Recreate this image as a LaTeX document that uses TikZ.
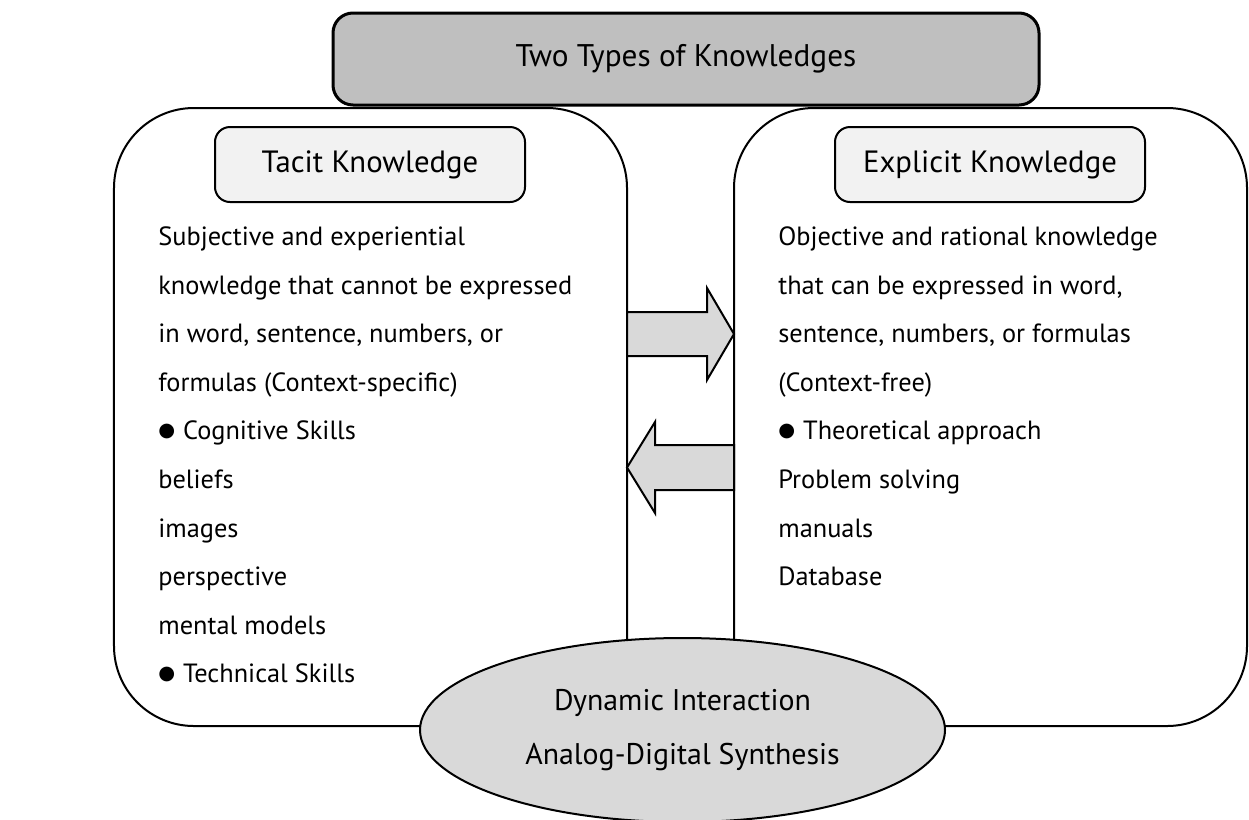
\documentclass[tikz,border=0pt]{standalone}
\usepackage{fontspec}
\setmainfont{PT Sans}
\newfontfamily\dotfont{DejaVu Sans}
\usetikzlibrary{shapes.geometric}
\definecolor{headgray}{HTML}{BFBFBF}
\definecolor{labelgray}{HTML}{F2F2F2}
\definecolor{arrowgray}{HTML}{D9D9D9}
\newcommand{\bul}{\raisebox{0.12em}{\dotfont\fontsize{11}{12}\selectfont\char"25CF}\hspace{0.3em}}
\tikzset{
  headbox/.style={draw, line width=0.6mm, rounded corners=4mm, fill=headgray,
    minimum width=141.2mm, minimum height=18.4mm, font=\fontsize{17.8}{20}\selectfont},
  sidebox/.style={draw, line width=0.4mm, rounded corners=16mm, fill=white,
    minimum width=102.6mm, minimum height=123.6mm},
  kindbox/.style={draw, line width=0.4mm, rounded corners=3mm, fill=labelgray,
    minimum width=62mm, minimum height=15mm, font=\fontsize{17.5}{20}\selectfont},
  linetext/.style={anchor=west, inner sep=0pt, text height=1.5ex, text depth=.25ex,
    font=\fontsize{15}{18}\selectfont},
  blockarrow/.style={draw, line width=0.4mm, fill=arrowgray},
  synth/.style={ellipse, draw, line width=0.4mm, fill=arrowgray, align=center,
    minimum width=105mm, minimum height=36.8mm, font=\fontsize{17}{31}\selectfont}
}
\begin{document}
\begin{tikzpicture}[x=0.2mm, y=-0.2mm]
\useasboundingbox (0,0) rectangle (1249,819);
% the two sides
\node[sidebox] (tacitbox) at (370.5,417) {};
\node[sidebox] (explicitbox) at (990.5,417) {};
% conversion arrows
\draw[blockarrow] (627,312) -- (707,312) -- (707,288) -- (734,334) -- (707,380) -- (707,356) -- (627,356) -- cycle;
\draw[blockarrow] (734,445) -- (655,445) -- (655,422) -- (627,467.5) -- (655,513) -- (655,490) -- (734,490) -- cycle;
\node[synth] (synthesis) at (682.5,730) {Dynamic Interaction\\Analog-Digital Synthesis};
\node[headbox] (title) at (686,59) {Two Types of Knowledges};
\node[kindbox] (tacit) at (370,164.5) {Tacit Knowledge};
\node[kindbox] (explicit) at (990,164.5) {Explicit Knowledge};
% tacit side
\node[linetext] (tl1) at (158,240) {Subjective and experiential};
\node[linetext] (tl2) at (158,288.6) {knowledge that cannot be expressed};
\node[linetext] (tl3) at (158,337.2) {in word, sentence, numbers, or};
\node[linetext] (tl4) at (158,385.8) {formulas (Context-specific)};
\node[linetext] (tl5) at (158,434.4) {\bul Cognitive Skills};
\node[linetext] (tl6) at (158,483) {beliefs};
\node[linetext] (tl7) at (158,531.6) {images};
\node[linetext] (tl8) at (158,580.2) {perspective};
\node[linetext] (tl9) at (158,628.8) {mental models};
\node[linetext] (tl10) at (158,677.4) {\bul Technical Skills};
% explicit side
\node[linetext] (el1) at (778,240) {Objective and rational knowledge};
\node[linetext] (el2) at (778,288.6) {that can be expressed in word,};
\node[linetext] (el3) at (778,337.2) {sentence, numbers, or formulas};
\node[linetext] (el4) at (778,385.8) {(Context-free)};
\node[linetext] (el5) at (778,434.4) {\bul Theoretical approach};
\node[linetext] (el6) at (778,483) {Problem solving};
\node[linetext] (el7) at (778,531.6) {manuals};
\node[linetext] (el8) at (778,580.2) {Database};
\end{tikzpicture}
\end{document}
